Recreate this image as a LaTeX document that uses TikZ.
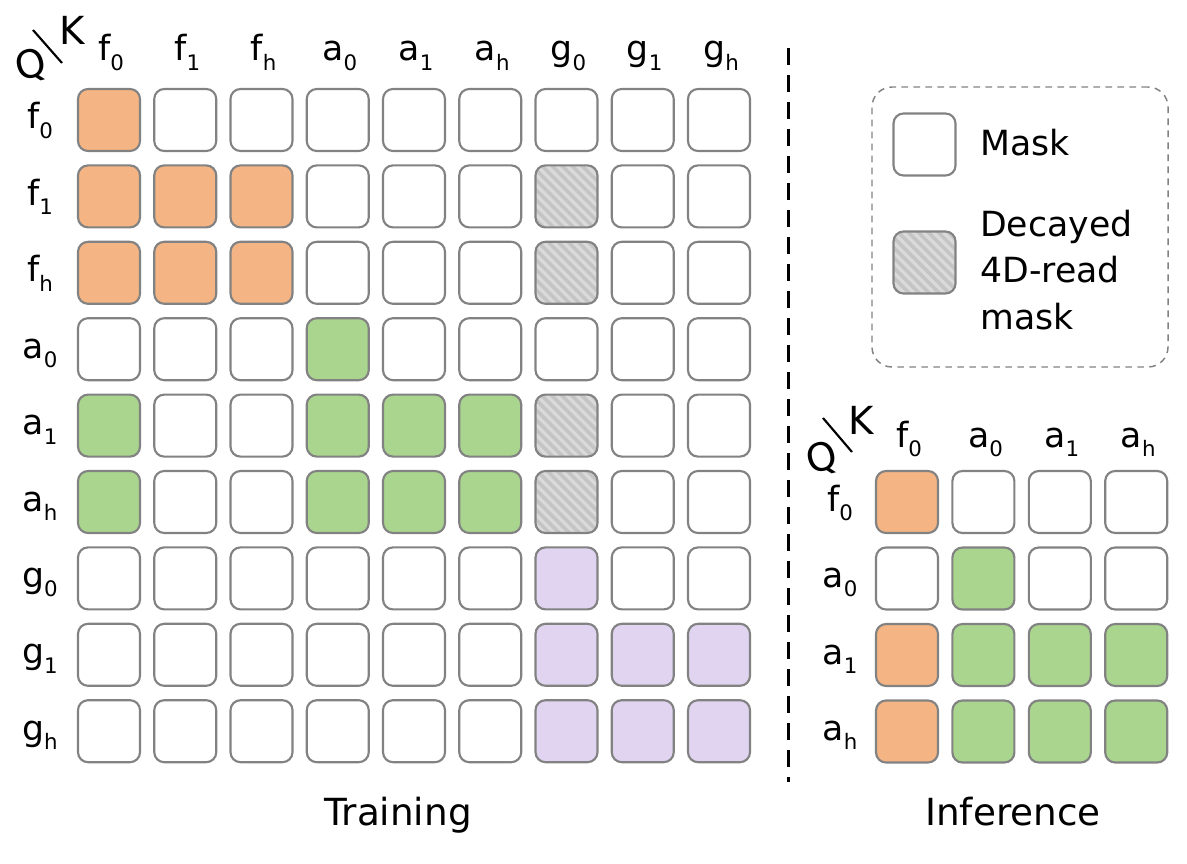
\documentclass[tikz,border=0pt]{standalone}
\usepackage{fontspec}
\setmainfont{DejaVu Sans}
\usetikzlibrary{patterns.meta}
\definecolor{borderC}{HTML}{828282}
\definecolor{orangeC}{HTML}{F4B483}
\definecolor{greenC}{HTML}{A9D58E}
\definecolor{purpleC}{HTML}{E0D4F0}
\definecolor{hatchC}{HTML}{DADADA}
\definecolor{stripeC}{HTML}{C4C4C4}
\newcommand\lbl[2]{#1\raisebox{-0.5ex}{\fontsize{16}{16}\selectfont #2}}
\begin{document}
\begin{tikzpicture}[x=0.75pt,y=-0.75pt,
  cell/.style={draw=borderC, line width=1.6pt, rounded corners=7.5pt,
    minimum size=46.5pt, inner sep=0pt, shape=rectangle},
  cW/.style={cell, fill=white},
  cO/.style={cell, fill=orangeC},
  cG/.style={cell, fill=greenC},
  cP/.style={cell, fill=purpleC},
  cH/.style={cell, preaction={fill=hatchC},
    pattern={Lines[angle=-45,distance=5.3pt,line width=2.6pt]}, pattern color=stripeC},
  lab/.style={font=\fontsize{26}{30}\selectfont, inner sep=0pt, anchor=base},
  title/.style={font=\fontsize{28}{32}\selectfont, inner sep=0pt},
  qk/.style={font=\fontsize{29}{32}\selectfont, inner sep=0pt},
  sepline/.style={line width=2.25pt, dash pattern=on 12.75pt off 7.5pt},
  legbox/.style={draw=borderC, line width=1.1pt, dash pattern=on 5pt off 4pt,
    rounded corners=15pt, minimum width=222pt, minimum height=210pt, inner sep=0pt}]
\useasboundingbox (0,0) rectangle (1187,863);

% ---------- Training matrix ----------
\foreach \row [count=\r from 0] in {
  {O,W,W,W,W,W,W,W,W},
  {O,O,O,W,W,W,H,W,W},
  {O,O,O,W,W,W,H,W,W},
  {W,W,W,G,W,W,W,W,W},
  {G,W,W,G,G,G,H,W,W},
  {G,W,W,G,G,G,H,W,W},
  {W,W,W,W,W,W,P,W,W},
  {W,W,W,W,W,W,P,P,P},
  {W,W,W,W,W,W,P,P,P}}{
  \foreach \c [count=\i from 0] in \row {
    \node[c\c] (t-\r-\i) at ({109+76.25*\i},{120+76.4*\r}) {};
  }
}
\foreach \n/\s [count=\i from 0] in {f/0,f/1,f/h,a/0,a/1,a/h,g/0,g/1,g/h}{
  \node[lab] (tk-\i) at ({111+76.25*\i},61) {\lbl{\n}{\s}};
  \node[lab] (tq-\i) at (40,{129+76.4*\i}) {\lbl{\n}{\s}};
}
\node[qk, rotate=15] (tQ) at (31,66) {Q};
\node[qk] (tK) at (72,30) {K};
\draw[line width=1.6pt] (33,30) -- (62,63);

% ---------- Inference matrix ----------
\foreach \row [count=\r from 0] in {
  {O,W,W,W},
  {W,G,W,W},
  {O,G,G,G},
  {O,G,G,G}}{
  \foreach \c [count=\i from 0] in \row {
    \node[c\c] (i-\r-\i) at ({907+76.4*\i},{502+76.5*\r}) {};
  }
}
\foreach \n/\s [count=\i from 0] in {f/0,a/0,a/1,a/h}{
  \node[lab] (ik-\i) at ({909+76.4*\i},447) {\lbl{\n}{\s}};
}
\foreach \n/\s [count=\i from 0] in {f/0,a/0,a/1,a/h}{
  \node[lab] (iq-\i) at (840,{511+76.5*\i}) {\lbl{\n}{\s}};
}
\node[qk, rotate=15] (iQ) at (822,459) {Q};
\node[qk] (iK) at (861,420) {K};
\draw[line width=1.6pt] (823,418) -- (852,452);

% ---------- separator ----------
\coordinate (sepTop) at (788,48);
\coordinate (sepBot) at (788,782);
\draw[sepline] (sepTop) -- (sepBot);

% ---------- legend ----------
\node[legbox] (legend) at (1020,227) {};
\node[cW] (legMask) at (924.5,144.5) {};
\node[cH] (legDecay) at (924.5,262.5) {};
\node[font=\fontsize{26}{30}\selectfont, inner sep=0pt, anchor=west] (legMaskT) at (980,143) {Mask};
\node[font=\fontsize{26}{35}\selectfont, inner sep=0pt, anchor=west, align=left] (legDecayT) at (980,270) {Decayed\\4D-read\\mask};

% ---------- titles ----------
\node[title] (trainT) at (398,815) {Training};
\node[title] (infT) at (1013,812) {Inference};
\end{tikzpicture}
\end{document}
